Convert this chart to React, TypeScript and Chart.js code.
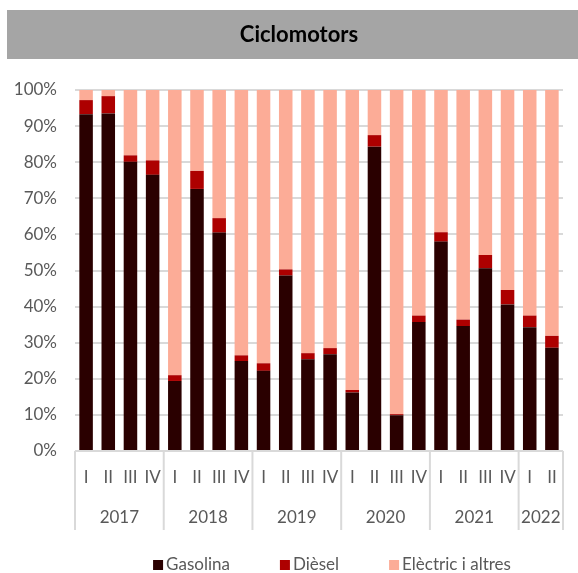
import React, { useEffect, useRef } from 'react';
import { Chart, registerables } from 'chart.js';

Chart.register(...registerables);

const chartTitle = 'Ciclomotors';
const quarterLabels = ['I', 'II', 'III', 'IV', 'I', 'II', 'III', 'IV', 'I', 'II', 'III', 'IV', 'I', 'II', 'III', 'IV', 'I', 'II', 'III', 'IV', 'I', 'II'];
const yearLabels = ['2017', '2018', '2019', '2020', '2021', '2022'];
const quartersPerYear = [4, 4, 4, 4, 4, 2];
const seriesNames = ['Gasolina', 'Dièsel', 'Elèctric i altres'];
const gasolina = [93.3, 93.5, 80.1, 76.5, 19.4, 72.6, 60.5, 24.9, 22.2, 48.6, 25.4, 26.8, 16.2, 84.3, 9.9, 35.7, 58.0, 34.6, 50.6, 40.6, 34.3, 28.6];
const diesel = [3.9, 4.8, 1.8, 4.0, 1.6, 5.0, 4.0, 1.6, 2.1, 1.7, 1.7, 1.7, 0.7, 3.2, 0.3, 1.8, 2.6, 1.8, 3.7, 4.0, 3.2, 3.3];
const electric = [2.8, 1.7, 18.1, 19.5, 79.0, 22.4, 35.5, 73.5, 75.7, 49.7, 72.9, 71.5, 83.1, 12.5, 89.8, 62.5, 39.4, 63.6, 45.7, 55.4, 62.5, 68.1];
const seriesColors = ['#2a0000', '#ad0000', '#fcac97'];

const FONT = 'Lato, "Liberation Sans", sans-serif';
const TEXT = '#595959';
const GRID = '#d9d9d9';

const titlePlugin = {
  id: 'titleBox',
  beforeDraw(chart: any) {
    const ctx = chart.ctx;
    ctx.save();
    ctx.fillStyle = '#a5a5a5';
    ctx.fillRect(7, 10, chart.width - 7, 49);
    ctx.fillStyle = '#000000';
    ctx.font = `bold 22px ${FONT}`;
    ctx.textAlign = 'center';
    ctx.textBaseline = 'middle';
    ctx.fillText(chartTitle, 299, 35);
    ctx.restore();
  },
};

const groupPlugin = {
  id: 'yearGroups',
  afterDraw(chart: any) {
    const ctx = chart.ctx;
    const xs = chart.scales.x;
    const area = chart.chartArea;
    const half = (xs.getPixelForValue(1) - xs.getPixelForValue(0)) / 2;
    ctx.save();
    ctx.strokeStyle = GRID;
    ctx.lineWidth = 2;
    ctx.fillStyle = TEXT;
    ctx.font = `17px ${FONT}`;
    ctx.textAlign = 'center';
    ctx.textBaseline = 'middle';
    let idx = 0;
    const drawSep = (px: number) => {
      ctx.beginPath();
      ctx.moveTo(px, area.bottom);
      ctx.lineTo(px, area.bottom + 79);
      ctx.stroke();
    };
    yearLabels.forEach((yr, g) => {
      const start = xs.getPixelForValue(idx) - half;
      const end = xs.getPixelForValue(idx + quartersPerYear[g] - 1) + half;
      drawSep(start);
      if (g === yearLabels.length - 1) drawSep(end);
      ctx.fillText(yr, (start + end) / 2, area.bottom + 67);
      idx += quartersPerYear[g];
    });
    ctx.restore();
  },
};

const legendPlugin = {
  id: 'customLegend',
  afterDraw(chart: any) {
    const ctx = chart.ctx;
    ctx.save();
    ctx.font = `17px ${FONT}`;
    ctx.textBaseline = 'middle';
    ctx.textAlign = 'left';
    const box = 10;
    const gapBox = 3;
    const gapItem = 50;
    const items = chart.data.datasets.map((d: any) => ({
      label: d.label,
      color: d.backgroundColor,
      w: box + gapBox + ctx.measureText(d.label).width,
    }));
    const total = items.reduce((s: number, it: any) => s + it.w, 0) + gapItem * (items.length - 1);
    let x = 332 - total / 2;
    const y = 565;
    items.forEach((it: any) => {
      ctx.fillStyle = it.color;
      ctx.fillRect(x, y - box / 2, box, box);
      ctx.fillStyle = TEXT;
      ctx.fillText(it.label, x + box + gapBox, y);
      x += it.w + gapItem;
    });
    ctx.restore();
  },
};

export default function App() {
  const ref = useRef<HTMLCanvasElement | null>(null);

  useEffect(() => {
    document.body.style.margin = '0';
    const canvas = ref.current;
    if (!canvas) return;
    const chart = new Chart(canvas, {
      type: 'bar',
      data: {
        labels: quarterLabels,
        datasets: [
          { label: seriesNames[0], data: gasolina, backgroundColor: seriesColors[0] },
          { label: seriesNames[1], data: diesel, backgroundColor: seriesColors[1] },
          { label: seriesNames[2], data: electric, backgroundColor: seriesColors[2] },
        ],
      },
      options: {
        responsive: false,
        animation: false,
        devicePixelRatio: 1,
        layout: { padding: { top: 90, left: 0, right: 15, bottom: 0 } },
        datasets: { bar: { categoryPercentage: 1, barPercentage: 0.61 } },
        plugins: {
          legend: { display: false },
          title: { display: false },
          tooltip: { enabled: false },
        },
        scales: {
          x: {
            stacked: true,
            grid: { display: false, drawTicks: false },
            border: { display: false },
            ticks: { color: TEXT, font: { family: FONT, size: 17 }, padding: 16, maxRotation: 0, autoSkip: false },
            afterFit: (s: any) => { s.height = 122; },
          },
          y: {
            stacked: true,
            min: 0,
            max: 100,
            grid: { color: GRID, lineWidth: 2, drawTicks: false },
            border: { display: false },
            ticks: {
              stepSize: 10,
              color: TEXT,
              font: { family: FONT, size: 17 },
              padding: 18,
              callback: (v: any) => `${v}%`,
            },
            afterFit: (s: any) => { s.width = 75; },
          },
        },
      },
      plugins: [titlePlugin, groupPlugin, legendPlugin],
    });
    return () => chart.destroy();
  }, []);

  return (
    <div style={{ width: 578, height: 573 }}>
      <canvas ref={ref} width={578} height={573} style={{ display: 'block', width: 578, height: 573 }} />
    </div>
  );
}
